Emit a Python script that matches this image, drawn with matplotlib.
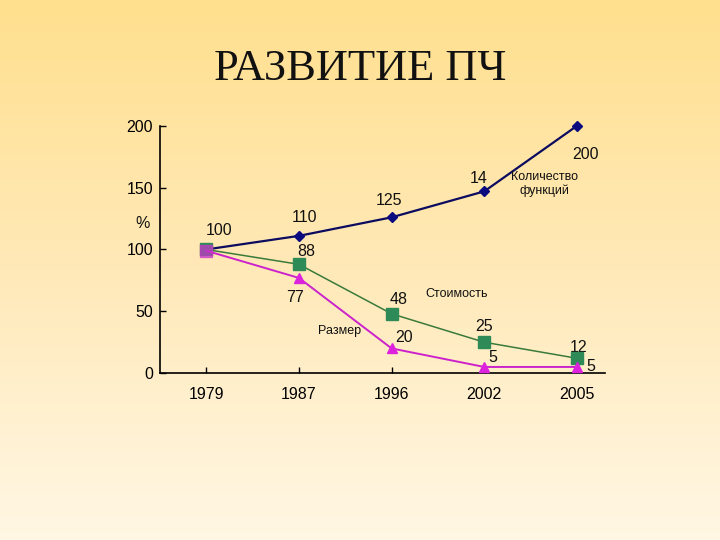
import numpy as np
import matplotlib.pyplot as plt
from matplotlib.colors import LinearSegmentedColormap

# ── Data ────────────────────────────────────────────────────────────────────
years = ["1979", "1987", "1996", "2002", "2005"]
functions = [100, 111, 126, 147, 200]
functions_labels = ["100", "110", "125", "14", "200"]
cost = [100, 88, 48, 25, 12]
cost_labels = ["", "88", "48", "25", "12"]
size = [99, 77, 20, 5, 5]
size_labels = ["", "77", "20", "5", "5"]

x = np.arange(len(years))

fig = plt.figure(figsize=(7.2, 5.4), dpi=100)

# ── Background gradient ─────────────────────────────────────────────────────
bg = fig.add_axes([0, 0, 1, 1], zorder=-10)
cmap = LinearSegmentedColormap.from_list(
    "bg", [(0.0, "#FFF7E4"), (0.5, "#FFE9B8"), (1.0, "#FFE08E")])
bg.imshow(np.linspace(1, 0, 256).reshape(-1, 1), aspect="auto", cmap=cmap,
          extent=[0, 1, 0, 1])
bg.axis("off")

fig.text(0.5, 0.872, "РАЗВИТИЕ ПЧ", ha="center", va="center",
         fontsize=32, family="Liberation Serif", color="#111111")

# ── Chart ───────────────────────────────────────────────────────────────────
ax = fig.add_axes([0.222, 0.309, 0.618, 0.458])
ax.patch.set_alpha(0)

ax.plot(x, functions, color="#0B0B60", lw=1.6, marker="D", ms=5,
        mfc="#0B0B80", mec="#0B0B80", zorder=3, clip_on=False)
ax.plot(x, cost, color="#3A7A3A", lw=1.1, marker="s", ms=8,
        mfc="#2E8B57", mec="#2E8B57", zorder=4, clip_on=False)
ax.plot(x, size, color="#CC22CC", lw=1.4, marker="^", ms=7,
        mfc="#DD22DD", mec="#DD22DD", markevery=[1, 2, 3, 4], zorder=5,
        clip_on=False)
ax.plot(x[:1], size[:1], ls="none", marker="s", ms=8, color="#CC33CC",
        alpha=0.7, zorder=5)

font = dict(family="Liberation Sans", fontsize=11.5, color="#111111")

f_off = [(9, 14), (4, 13), (-2, 12), (-4, 9), (6, -21)]
for xi, v, lab, off in zip(x, functions, functions_labels, f_off):
    ax.annotate(lab, (xi, v), xytext=off, textcoords="offset points",
                ha="center", va="center", annotation_clip=False, **font)

c_off = [(0, 0), (5, 9), (5, 10), (0, 11), (1, 8)]
for xi, v, lab, off in zip(x, cost, cost_labels, c_off):
    if lab:
        ax.annotate(lab, (xi, v), xytext=off, textcoords="offset points",
                    ha="center", va="center", **font)

s_off = [(0, 0), (-3, -14), (9, 8), (6, 7), (10, 0)]
for xi, v, lab, off in zip(x, size, size_labels, s_off):
    if lab:
        ax.annotate(lab, (xi, v), xytext=off, textcoords="offset points",
                    ha="center", va="center", **font)

small = dict(family="Liberation Sans", fontsize=9, color="#111111")
ax.text(3.65, 153, "Количество\nфункций", ha="center", va="center",
        linespacing=1.1, **small)
ax.text(2.7, 64, "Стоимость", ha="center", va="center", **small)
ax.text(1.44, 34, "Размер", ha="center", va="center", **small)
ax.text(-0.038, 0.607, "%", transform=ax.transAxes, ha="center",
        va="center", **font)

ax.set_xlim(-0.5, 4.3)
ax.set_ylim(0, 200)
ax.set_xticks(x)
ax.set_xticklabels(years)
ax.set_yticks([0, 50, 100, 150, 200])
ax.tick_params(axis="both", direction="in", length=4, width=1,
               labelsize=11.5)
ax.tick_params(axis="x", pad=10)
ax.tick_params(axis="y", pad=5)
for lab in ax.get_xticklabels() + ax.get_yticklabels():
    lab.set_family("Liberation Sans")
ax.spines["top"].set_visible(False)
ax.spines["right"].set_visible(False)
ax.spines["left"].set_linewidth(1.2)
ax.spines["bottom"].set_linewidth(1.2)

fig.savefig("out.png", dpi=100)
